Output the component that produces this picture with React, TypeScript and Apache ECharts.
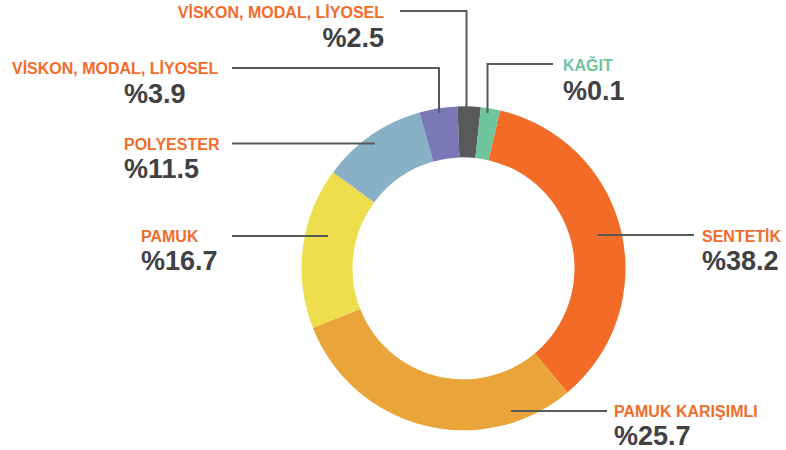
import React, { useEffect, useRef } from "react";
import * as echarts from "echarts";

// Categories in clockwise order, starting just right of 12 o'clock
const categories = [
  "SENTETİK",
  "PAMUK KARIŞIMLI",
  "PAMUK",
  "POLYESTER",
  "VİSKON, MODAL, LİYOSEL",
  "VİSKON, MODAL, LİYOSEL",
  "KAĞIT",
];
// Slice sizes as drawn in the picture (share of the ring)
const sliceValues = [35.3, 30.1, 16.1, 10.5, 3.8, 2.3, 1.9];
// Printed percentage labels
const percentLabels = ["38.2", "25.7", "16.7", "11.5", "3.9", "2.5", "0.1"];
const sliceColors = ["#F26C27", "#E9A53A", "#EEDE4E", "#89B1C5", "#7A78B7", "#58595B", "#6EC59D"];
const nameColorKeys = ["o", "o", "o", "o", "o", "o", "g"];

// Label placement and leader lines (layout only)
const labelPlacement = [
  { x: 702, y: 224, align: "left", indent: false, line: [[598, 235], [694, 235]] },
  { x: 614, y: 399, align: "left", indent: false, line: [[511, 411], [607, 411]] },
  { x: 141, y: 224, align: "left", indent: false, line: [[328, 236], [232, 236]] },
  { x: 124, y: 132, align: "left", indent: false, line: [[375, 143.5], [232, 143.5]] },
  { x: 12, y: 56.5, align: "left", indent: true, line: [[439, 113], [439, 68], [232, 68]] },
  { x: 384, y: 0.5, align: "right", indent: false, line: [[466.5, 107], [466.5, 11], [400, 11]] },
  { x: 563, y: 53.5, align: "left", indent: false, line: [[487.5, 113], [487.5, 64], [553, 64]] },
];

const FONT = "'Liberation Sans', Arial, Helvetica, sans-serif";

export default function App() {
  const ref = useRef<HTMLDivElement>(null);
  useEffect(() => {
    if (!ref.current) return;
    const chart = echarts.init(ref.current, null, { renderer: "svg" });
    const data = categories.map((name, i) => ({
      name,
      value: sliceValues[i],
      itemStyle: { color: sliceColors[i] },
    }));
    chart.setOption({
      animation: false,
      backgroundColor: "#ffffff",
      graphic: labelPlacement.map((lp) => ({
        type: "polyline",
        z: 100,
        silent: true,
        shape: { points: lp.line },
        style: { stroke: "#58595B", lineWidth: 2, fill: null },
      })),
      series: [
        {
          type: "pie",
          center: [463.5, 268.3],
          radius: [111, 162],
          startAngle: 77,
          clockwise: true,
          avoidLabelOverlap: false,
          silent: true,
          emphasis: { disabled: true },
          data,
          itemStyle: { borderWidth: 0 },
          label: {
            show: true,
            position: "outside",
            fontFamily: FONT,
            formatter: (p: any) => {
              const i = p.dataIndex;
              const nk = nameColorKeys[i] === "g" ? "ng" : "no";
              const vk = labelPlacement[i].indent ? "vi" : "v";
              return `{${nk}|${categories[i]}}\n{${vk}|%${percentLabels[i]}}`;
            },
            rich: {
              no: { fontFamily: FONT, fontSize: 16, fontWeight: "bold", color: "#F26C2A", lineHeight: 24 },
              ng: { fontFamily: FONT, fontSize: 16, fontWeight: "bold", color: "#6EC59D", lineHeight: 24 },
              v: { fontFamily: FONT, fontSize: 27, fontWeight: "bold", color: "#414042", lineHeight: 26 },
              vi: {
                fontFamily: FONT,
                fontSize: 27,
                fontWeight: "bold",
                color: "#414042",
                lineHeight: 26,
                padding: [0, 0, 0, 112],
              },
            },
          },
          labelLine: { show: false },
          labelLayout: (params: any) => {
            const lp = labelPlacement[params.dataIndex];
            return {
              x: lp.x,
              y: lp.y,
              align: lp.align,
              verticalAlign: "top",
            };
          },
        },
      ],
    });
    return () => chart.dispose();
  }, []);
  return (
    <div
      ref={ref}
      style={{ position: "fixed", left: 0, top: 0, width: 786, height: 450, background: "#fff" }}
    />
  );
}
